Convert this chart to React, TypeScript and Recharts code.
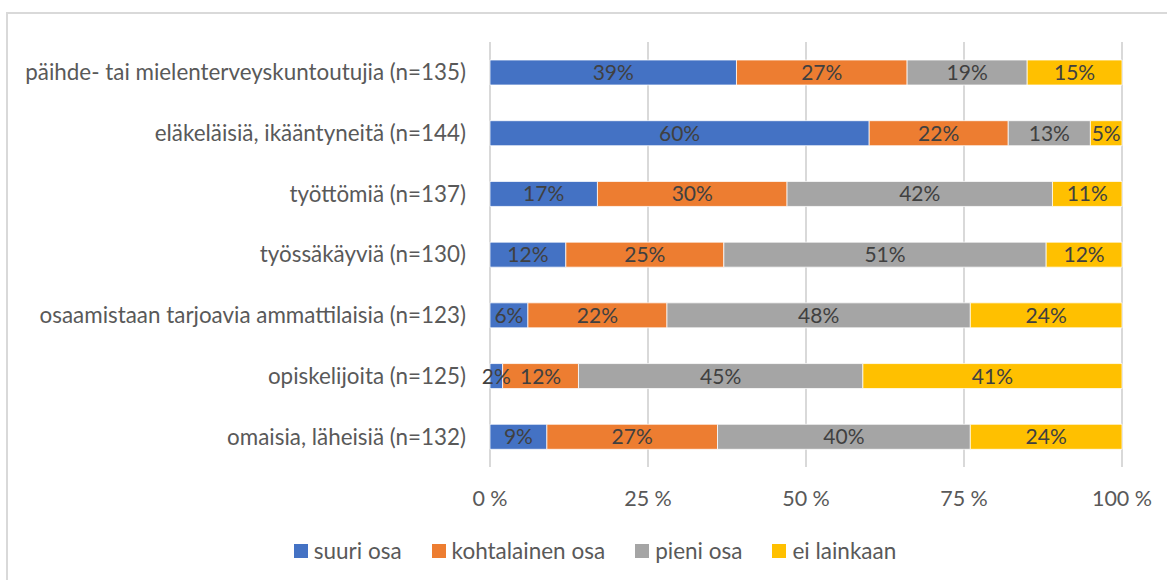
import React from 'react';
import { BarChart, Bar, XAxis, YAxis, CartesianGrid, LabelList, Legend } from 'recharts';

const categories = [
  'päihde- tai mielenterveyskuntoutujia (n=135)',
  'eläkeläisiä, ikääntyneitä (n=144)',
  'työttömiä (n=137)',
  'työssäkäyviä (n=130)',
  'osaamistaan tarjoavia ammattilaisia (n=123)',
  'opiskelijoita (n=125)',
  'omaisia, läheisiä (n=132)',
];
const suuriOsa = [39, 60, 17, 12, 6, 2, 9];
const kohtalainenOsa = [27, 22, 30, 25, 22, 12, 27];
const pieniOsa = [19, 13, 42, 51, 48, 45, 40];
const eiLainkaan = [15, 5, 11, 12, 24, 41, 24];
const xTicks = [0, 25, 50, 75, 100];
const seriesKeys = ['suuri', 'kohtalainen', 'pieni', 'ei'];
const seriesNames = ['suuri osa', 'kohtalainen osa', 'pieni osa', 'ei lainkaan'];
const seriesColors = ['#4472C4', '#ED7D31', '#A5A5A5', '#FFC000'];

const data = categories.map((name, i) => ({
  name,
  suuri: suuriOsa[i],
  kohtalainen: kohtalainenOsa[i],
  pieni: pieniOsa[i],
  ei: eiLainkaan[i],
}));

const FONT = 'Lato, "Liberation Sans", sans-serif';

const renderLegend = () => (
  <div style={{ display: 'flex', justifyContent: 'center', gap: 30, paddingLeft: 68, fontFamily: FONT, fontSize: 22.5, lineHeight: '26px', color: '#595959' }}>
    {seriesNames.map((n, i) => (
      <div key={n} style={{ display: 'flex', alignItems: 'center' }}>
        <span style={{ display: 'inline-block', width: 14, height: 14, background: seriesColors[i], marginRight: 6 }} />
        <span>{n}</span>
      </div>
    ))}
  </div>
);

export default function App() {
  return (
    <div style={{ position: 'absolute', left: 0, top: 0, width: 1167, height: 580, overflow: 'hidden', background: '#fff' }}>
      <div style={{ position: 'absolute', left: 6, top: 12, width: 1200, height: 620, border: '2px solid #d9d9d9', boxSizing: 'border-box' }} />
      <div style={{ position: 'absolute', left: 0, top: 0 }}>
        <BarChart
          layout="vertical"
          width={1167}
          height={580}
          data={data}
          margin={{ top: 42, right: 45, bottom: 27, left: 0 }}
          barSize={25}
          style={{ fontFamily: FONT }}
        >
          <CartesianGrid horizontal={false} stroke="#d9d9d9" strokeWidth={2} />
          <XAxis
            type="number"
            domain={[0, 100]}
            ticks={xTicks}
            axisLine={false}
            tickLine={false}
            tickMargin={18}
            height={60}
            tick={{ fill: '#595959', fontSize: 21.5 }}
            tickFormatter={(v: number) => `${v} %`}
          />
          <YAxis
            type="category"
            dataKey="name"
            width={490}
            axisLine={false}
            tickLine={false}
            tickMargin={18}
            tick={{ fill: '#595959', fontSize: 22.4 }}
          />
          <Legend verticalAlign="bottom" content={renderLegend} wrapperStyle={{ top: 538, bottom: 'auto' }} />
          {seriesKeys.map((k, i) => (
            <Bar key={k} dataKey={k} name={seriesNames[i]} stackId="a" fill={seriesColors[i]} stroke="#ffffff" strokeWidth={0.75} isAnimationActive={false}>
              <LabelList dataKey={k} position="center" fill="#404040" fontSize={21} formatter={(v: number) => `${v}%`} />
            </Bar>
          ))}
        </BarChart>
      </div>
    </div>
  );
}
